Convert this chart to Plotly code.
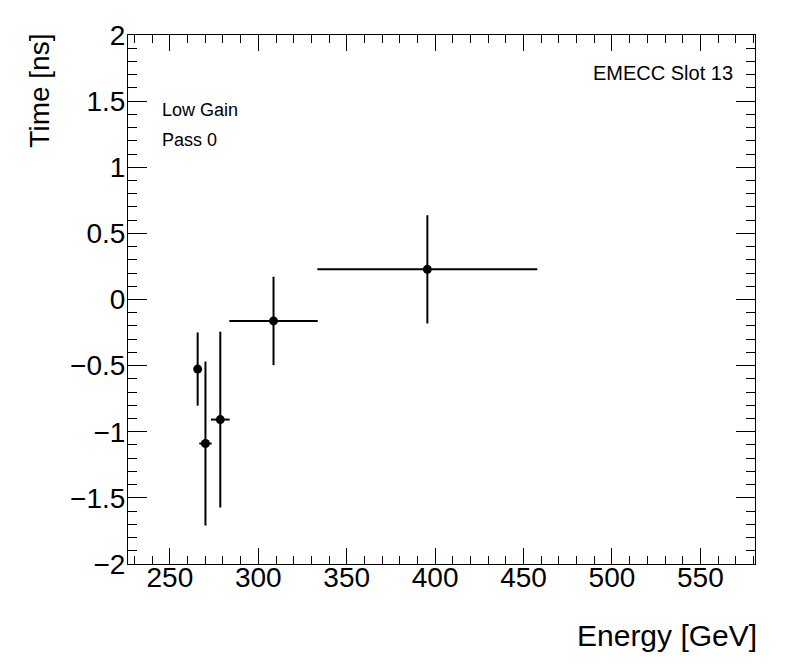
import plotly.graph_objects as go

# points
energy = [265.7, 270.1, 278.5, 308.6, 395.6]
energy_err = [1.5, 3.5, 5.3, 25.0, 62.2]
time = [-0.526, -1.089, -0.908, -0.162, 0.228]
time_err = [0.277, 0.62, 0.665, 0.334, 0.409]

x_range = [226.3, 580.9]
y_range = [-2, 2]

font = "Liberation Sans, Arial, sans-serif"

fig = go.Figure()
fig.add_trace(go.Scatter(
    x=energy, y=time, mode="markers",
    marker=dict(color="black", size=9, symbol="circle"),
    error_x=dict(type="data", array=energy_err, width=0, thickness=2, color="black"),
    error_y=dict(type="data", array=time_err, width=0, thickness=2, color="black"),
    showlegend=False,
))

axis_common = dict(
    showline=True, linecolor="black", linewidth=1, mirror="ticks",
    ticks="inside", tickcolor="black", tickwidth=1,
    showgrid=False, zeroline=False,
    tickfont=dict(family=font, size=28, color="black"),
)

fig.update_xaxes(range=x_range, dtick=50, tick0=0, ticklen=16, ticklabelstandoff=-12,
                 minor=dict(dtick=10, ticklen=8, ticks="inside", tickcolor="black", showgrid=False),
                 **axis_common)
fig.update_yaxes(range=y_range, dtick=0.5, tick0=0, ticklen=19, ticklabelstandoff=-4,
                 minor=dict(dtick=0.1, ticklen=9, ticks="inside", tickcolor="black", showgrid=False),
                 **axis_common)

annotations = [
    dict(text="Energy [GeV]", x=1, xanchor="right", xshift=4, y=-0.1356, yanchor="middle",
         font=dict(family=font, size=30, color="black")),
    dict(text="Time [ns]", x=-0.1425, xanchor="center", y=1, yanchor="top", yshift=3, textangle=-90,
         font=dict(family=font, size=28, color="black")),
    dict(text="Low Gain", x=0.0518, xanchor="left", y=0.8588, yanchor="middle",
         font=dict(family=font, size=18, color="black")),
    dict(text="Pass 0", x=0.0518, xanchor="left", y=0.8023, yanchor="middle",
         font=dict(family=font, size=18, color="black")),
    dict(text="EMECC Slot 13", x=0.9674, xanchor="right", y=0.9280, yanchor="middle",
         font=dict(family=font, size=20, color="black")),
]
for a in annotations:
    a.update(xref="paper", yref="paper", showarrow=False)

# page body has an 8px margin, so the figure is a bit smaller than the window
fig.update_layout(
    width=780, height=656,
    margin=dict(l=119.5, r=32.5, t=25, b=100),
    paper_bgcolor="white", plot_bgcolor="white",
    annotations=annotations,
)

fig.write_html("out.html")
